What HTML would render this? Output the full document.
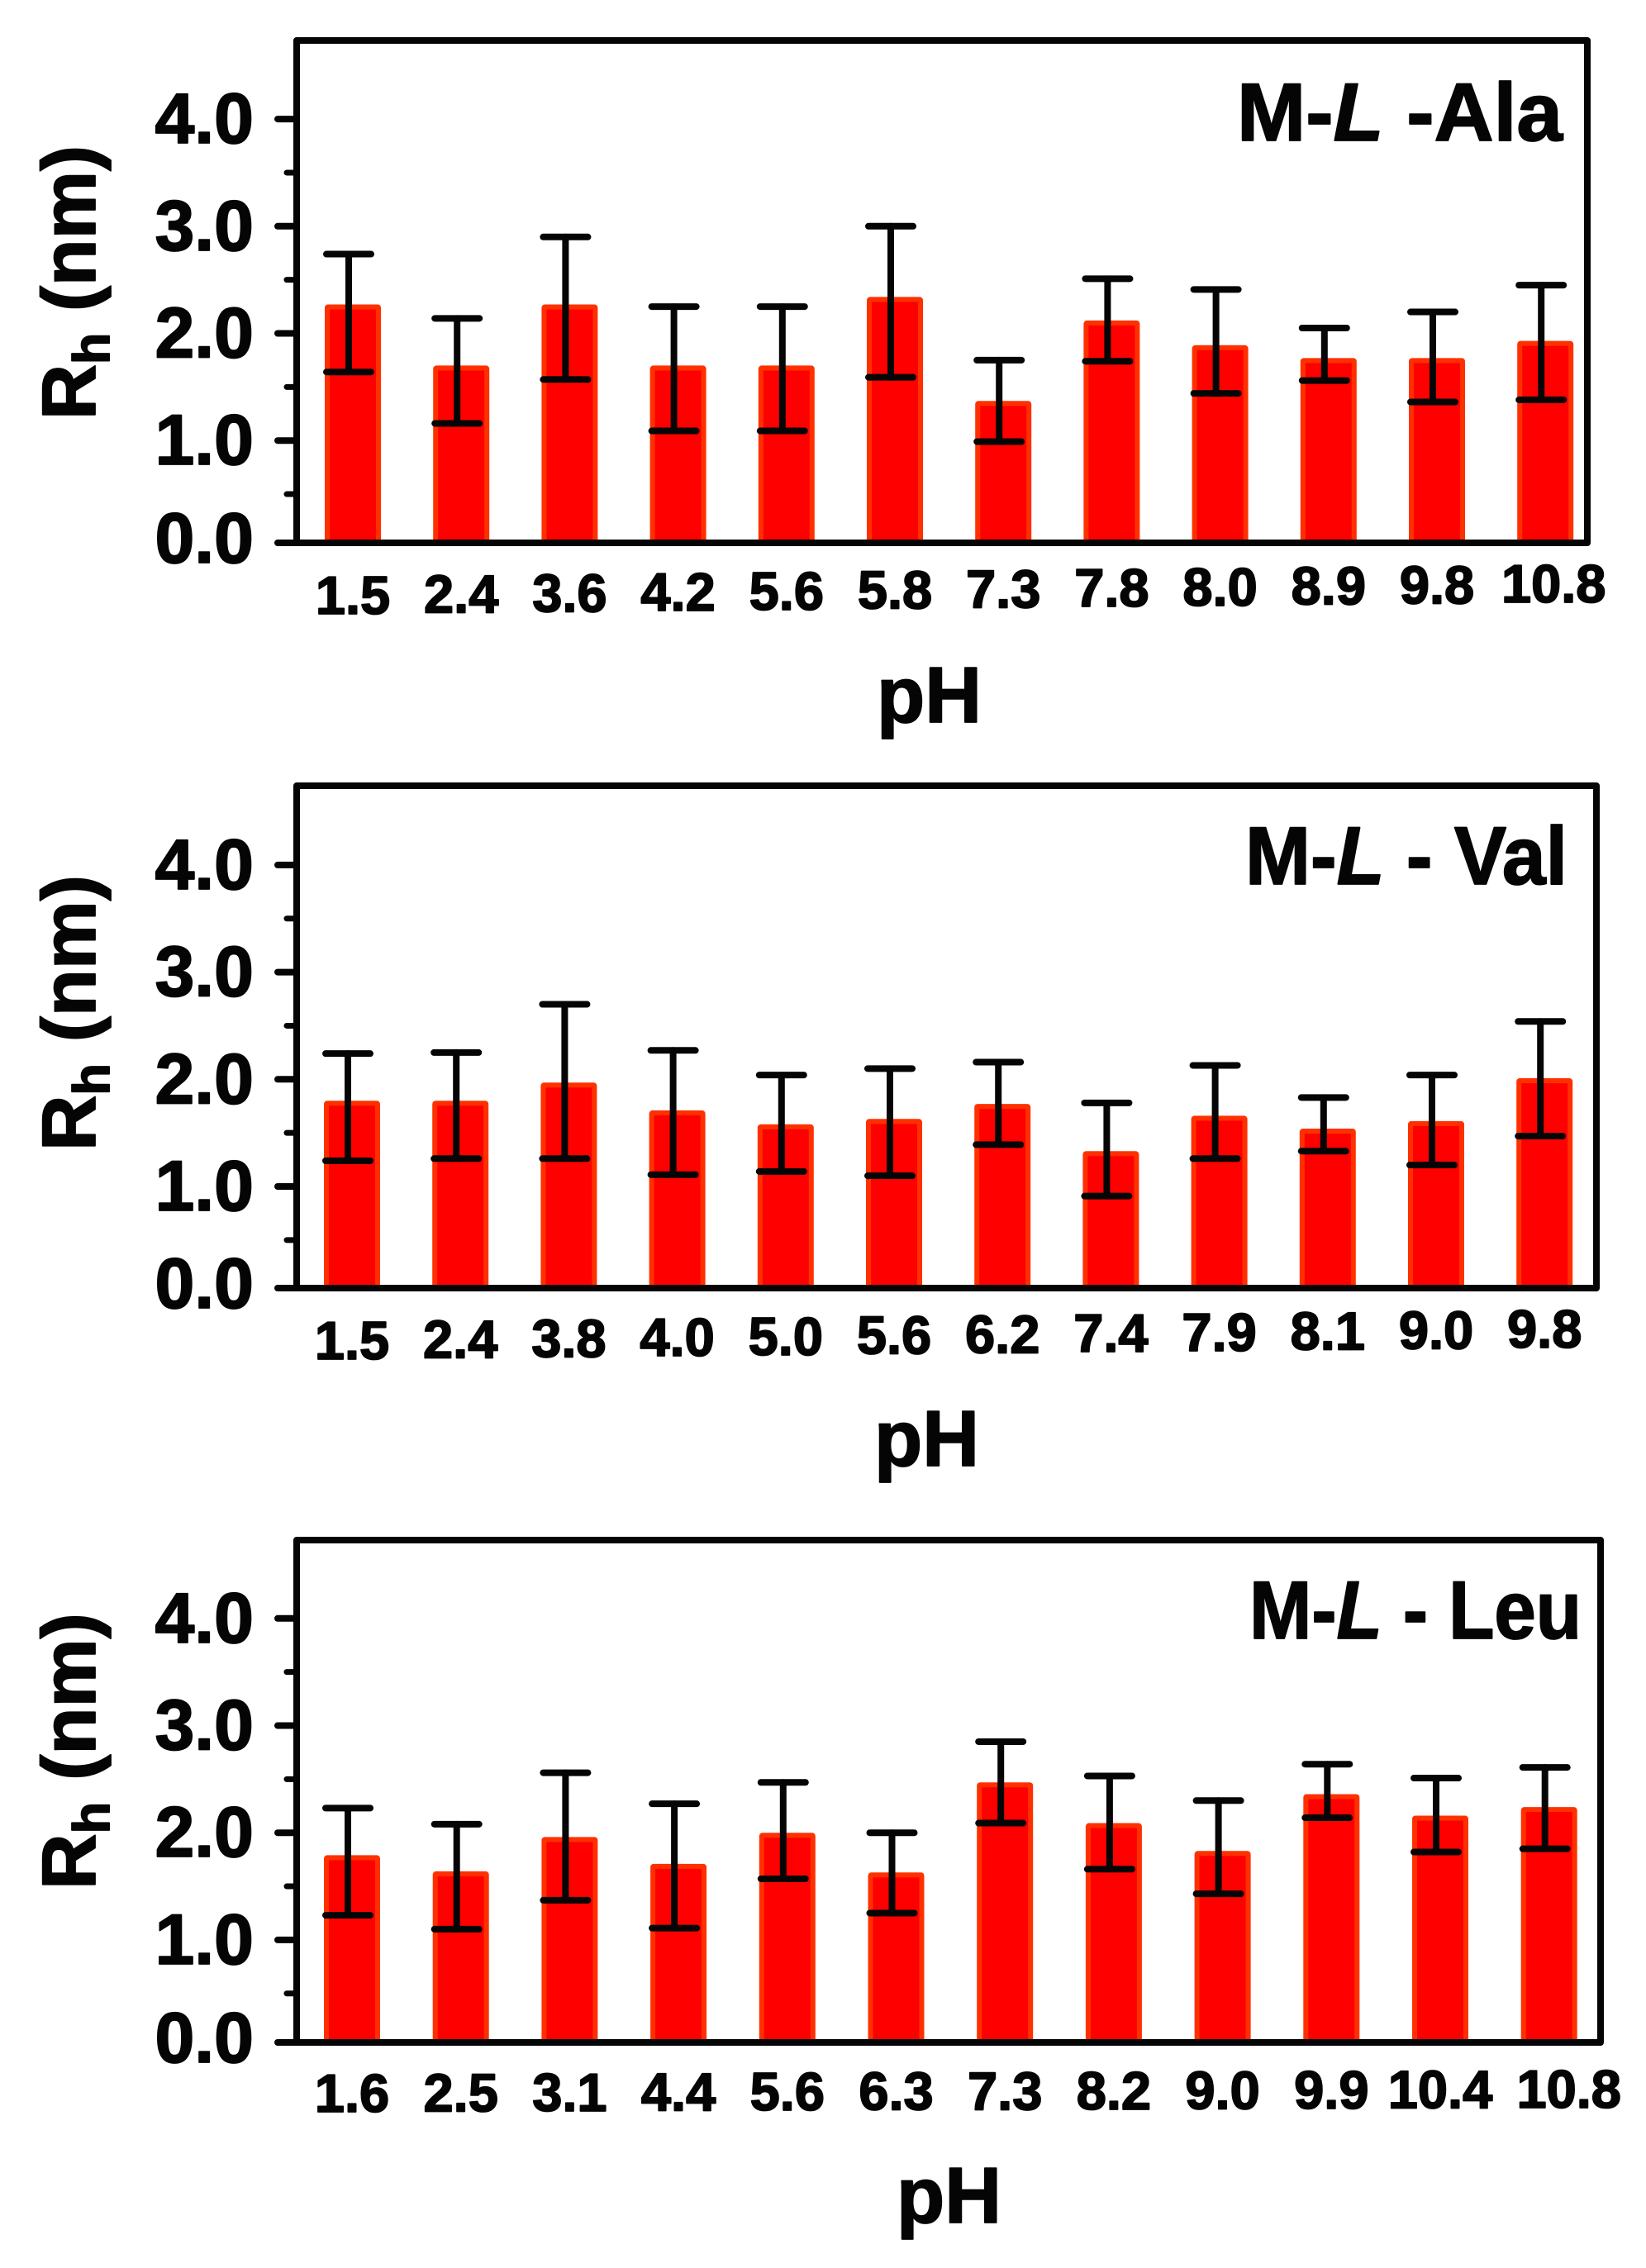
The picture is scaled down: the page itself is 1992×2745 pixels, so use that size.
<!DOCTYPE html>
<html lang="en">
<head>
<meta charset="utf-8">
<title>Hydrodynamic radius versus pH</title>
<style>
  html, body { margin: 0; padding: 0; background: #fff; }
  svg { display: block; }
  text { font-family: "Liberation Sans", sans-serif; font-weight: 700; fill: #050505; stroke: #050505; stroke-width: 1.8px; stroke-linejoin: round; }
</style>
</head>
<body>
<svg id="figure" width="1992" height="2745" viewBox="0 0 1992 2745" xmlns="http://www.w3.org/2000/svg">
  <rect width="1992" height="2745" fill="#ffffff"/>

  <text x="1497" y="170" font-size="99" textLength="394" lengthAdjust="spacingAndGlyphs">M-<tspan font-style="italic">L</tspan> -Ala</text>
  <text x="1507" y="1070" font-size="99" textLength="390" lengthAdjust="spacingAndGlyphs">M-<tspan font-style="italic">L</tspan> - Val</text>
  <text x="1512" y="1983" font-size="99" textLength="402" lengthAdjust="spacingAndGlyphs">M-<tspan font-style="italic">L</tspan> - Leu</text>

  <text transform="translate(115,508) rotate(-90)" font-size="92" textLength="332" lengthAdjust="spacingAndGlyphs">R<tspan dy="17" font-size="62">h</tspan><tspan dy="-17"> (nm)</tspan></text>
  <text transform="translate(115,1393) rotate(-90)" font-size="92" textLength="334" lengthAdjust="spacingAndGlyphs">R<tspan dy="17" font-size="62">h</tspan><tspan dy="-17"> (nm)</tspan></text>
  <text transform="translate(115,2287) rotate(-90)" font-size="92" textLength="335" lengthAdjust="spacingAndGlyphs">R<tspan dy="17" font-size="62">h</tspan><tspan dy="-17"> (nm)</tspan></text>

  <text x="1061" y="874" font-size="96" textLength="127" lengthAdjust="spacingAndGlyphs">pH</text>
  <text x="1058" y="1774" font-size="96" textLength="127" lengthAdjust="spacingAndGlyphs">pH</text>
  <text x="1085" y="2690" font-size="96" textLength="127" lengthAdjust="spacingAndGlyphs">pH</text>
</svg>

<script>
// ---- Data (Rh in nm) ----
const yTickValues = [0, 1, 2, 3, 4];
const yTickLabels = ["0.0", "1.0", "2.0", "3.0", "4.0"];
const yMinorValues = [0.5, 1.5, 2.5, 3.5];

const alaCategories = ["1.5", "2.4", "3.6", "4.2", "5.6", "5.8", "7.3", "7.8", "8.0", "8.9", "9.8", "10.8"];
const alaValues = [2.27, 1.70, 2.27, 1.70, 1.70, 2.34, 1.37, 2.12, 1.89, 1.77, 1.77, 1.93];
const alaErrHigh = [2.74, 2.14, 2.90, 2.25, 2.25, 3.00, 1.75, 2.51, 2.41, 2.05, 2.20, 2.45];
const alaErrLow = [1.64, 1.16, 1.57, 1.09, 1.09, 1.59, 0.99, 1.74, 1.44, 1.56, 1.36, 1.38];

const valCategories = ["1.5", "2.4", "3.8", "4.0", "5.0", "5.6", "6.2", "7.4", "7.9", "8.1", "9.0", "9.8"];
const valValues = [1.80, 1.80, 1.97, 1.71, 1.58, 1.63, 1.77, 1.33, 1.66, 1.54, 1.61, 2.01];
const valErrHigh = [2.24, 2.25, 2.70, 2.27, 2.04, 2.10, 2.16, 1.78, 2.13, 1.83, 2.04, 2.54];
const valErrLow = [1.24, 1.26, 1.26, 1.11, 1.14, 1.10, 1.39, 0.91, 1.26, 1.33, 1.20, 1.47];

const leuCategories = ["1.6", "2.5", "3.1", "4.4", "5.6", "6.3", "7.3", "8.2", "9.0", "9.9", "10.4", "10.8"];
const leuValues = [1.79, 1.64, 1.96, 1.71, 2.00, 1.63, 2.47, 2.09, 1.83, 2.36, 2.16, 2.24];
const leuErrHigh = [2.23, 2.08, 2.56, 2.27, 2.47, 2.00, 2.85, 2.53, 2.30, 2.64, 2.51, 2.61];
const leuErrLow = [1.23, 1.10, 1.37, 1.11, 1.57, 1.25, 2.09, 1.66, 1.43, 2.14, 1.82, 1.85];

// ---- Panel layout ----
const panels = [
  { key: "ala", categories: alaCategories, values: alaValues, high: alaErrHigh, low: alaErrLow,
    left: 359, right: 1921, top: 49, base: 657, zero: 662.9, xStart: 427, xStep: 131.2, labelY0: 743, labelY1: 729, lastLabelShift: 10 },
  { key: "val", categories: valCategories, values: valValues, high: valErrHigh, low: valErrLow,
    left: 359, right: 1932, top: 951, base: 1559, zero: 1565.7, xStart: 426, xStep: 131.2, labelY0: 1645, labelY1: 1631, lastLabelShift: 0 },
  { key: "leu", categories: leuCategories, values: leuValues, high: leuErrHigh, low: leuErrLow,
    left: 359, right: 1937, top: 1864, base: 2472, zero: 2477.6, xStart: 426, xStep: 131.7, labelY0: 2556, labelY1: 2551, lastLabelShift: 24 }
];

const UNIT = 129.7;
const BAR_WIDTH = 68;
const CAP_WIDTH = 54;
const ERR_SHIFT = -5;

const NS = "http://www.w3.org/2000/svg";
const figure = document.getElementById("figure");

function yScale(panel, v) {
  return Math.min(panel.base, panel.zero - v * UNIT);
}
function xScale(panel, i) {
  return panel.xStart + panel.xStep * i;
}
function make(tag, parent) {
  const el = document.createElementNS(NS, tag);
  parent.appendChild(el);
  return el;
}
function setAll(el, attrs) {
  Object.keys(attrs).forEach(function (k) { el.setAttribute(k, attrs[k]); });
}
function line(parent, x1, y1, x2, y2, width) {
  const el = make("line", parent);
  setAll(el, { x1: x1, y1: y1, x2: x2, y2: y2, stroke: "#050505", "stroke-width": width, "stroke-linecap": "round" });
  return el;
}

panels.forEach(function (p) {
  const g = make("g", figure);
  
  

  // bars
  p.values.forEach(function (v, i) {
    const cx = xScale(p, i);
    const top = yScale(p, v);
    const bar = make("rect", g);
    setAll(bar, { x: cx - BAR_WIDTH / 2 + 3, y: top + 3, width: BAR_WIDTH - 6, height: p.base - top - 3, rx: 1,
      fill: "#ff0000", stroke: "#ff3000", "stroke-width": 6 });
    
    
  });

  // frame
  const frame = make("rect", g);
  setAll(frame, { x: p.left, y: p.top, width: p.right - p.left, height: p.base - p.top,
    fill: "none", stroke: "#050505", "stroke-width": 8, "stroke-linejoin": "round" });
  
  

  // error bars
  p.values.forEach(function (v, i) {
    const ex = xScale(p, i) + ERR_SHIFT;
    const yHigh = yScale(p, p.high[i]);
    const yLow = yScale(p, p.low[i]);
    const stem = line(g, ex, yHigh, ex, yLow, 8);
    
    
    const capHigh = line(g, ex - CAP_WIDTH / 2, yHigh, ex + CAP_WIDTH / 2, yHigh, 8);
    
    
    const capLow = line(g, ex - CAP_WIDTH / 2, yLow, ex + CAP_WIDTH / 2, yLow, 8);
    
    
  });

  // y ticks
  yTickValues.forEach(function (t, i) {
    const y = yScale(p, t);
    const tick = line(g, 336, y, p.left, y, 8);
    
    
    const label = make("text", g);
    setAll(label, { x: 307, y: y + (t === 0 ? 24 : 29), "font-size": 86, "text-anchor": "end" });
    label.textContent = yTickLabels[i];
    
    
  });
  yMinorValues.forEach(function (t) {
    const y = yScale(p, t);
    const minor = line(g, 347, y, p.left, y, 7);
    
    
  });

  // x tick labels
  p.categories.forEach(function (c, i) {
    const label = make("text", g);
    const last = p.categories.length - 1;
    const frac = i / last;
    const shift = i === last ? p.lastLabelShift : 0;
    setAll(label, { x: xScale(p, i) + shift, y: p.labelY0 + (p.labelY1 - p.labelY0) * frac, "font-size": 65, "text-anchor": "middle" });
    label.textContent = c;
    
    
  });
});
</script>
</body>
</html>
